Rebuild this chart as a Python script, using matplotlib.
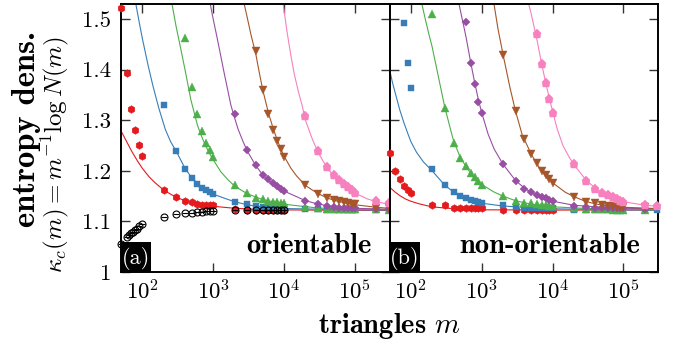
import matplotlib
matplotlib.use('Agg')
import matplotlib.pyplot as plt
from matplotlib.patches import Rectangle
from matplotlib.ticker import LogLocator, FixedLocator, FixedFormatter, NullFormatter

plt.rcParams['font.family'] = 'serif'
plt.rcParams['font.serif'] = ['cmr10']
plt.rcParams['mathtext.fontset'] = 'cm'
plt.rcParams['axes.formatter.use_mathtext'] = True

# ---------------- panel (a): orientable ----------------
red_a_m = [50, 60, 70, 80, 90, 100, 200, 300, 400, 500, 600, 700, 800, 900, 1000,
           2000, 3000, 4000, 5000, 6000, 7000, 8000, 9000, 10000]
red_a_k = [1.523, 1.393, 1.322, 1.281, 1.252, 1.230, 1.162, 1.149, 1.141, 1.138, 1.134, 1.133, 1.132, 1.132, 1.132,
           1.124, 1.123, 1.123, 1.123, 1.123, 1.122, 1.122, 1.122, 1.122]
blue_a_m = [200, 300, 400, 500, 600, 700, 800, 900, 1000, 2000, 3000, 4000, 5000, 6000, 7000, 8000, 9000, 10000,
            20000, 30000, 40000, 50000, 60000, 70000, 80000, 90000, 100000, 200000, 300000]
blue_a_k = [1.331, 1.239, 1.203, 1.185, 1.174, 1.167, 1.162, 1.158, 1.154, 1.139, 1.134, 1.130, 1.129, 1.128, 1.127,
            1.127, 1.126, 1.126, 1.1245, 1.124, 1.123, 1.123, 1.123, 1.123, 1.123, 1.123, 1.123, 1.1225, 1.1225]
green_a_m = [400, 500, 600, 700, 800, 900, 1000, 2000, 3000, 4000, 5000, 6000, 7000, 8000, 9000, 10000,
             20000, 30000, 40000, 50000, 60000, 70000, 80000, 90000, 100000, 200000, 300000]
green_a_k = [1.462, 1.366, 1.312, 1.279, 1.256, 1.241, 1.227, 1.172, 1.157, 1.146, 1.144, 1.141, 1.139, 1.138, 1.136,
             1.136, 1.128, 1.126, 1.125, 1.125, 1.125, 1.125, 1.1245, 1.1245, 1.1245, 1.124, 1.1235]
purple_a_m = [2000, 3000, 4000, 5000, 6000, 7000, 8000, 9000, 10000, 20000, 30000, 40000, 50000, 60000, 70000,
              80000, 90000, 100000, 200000, 300000]
purple_a_k = [1.312, 1.242, 1.211, 1.192, 1.183, 1.1765, 1.170, 1.165, 1.160, 1.141, 1.134, 1.130, 1.128, 1.1275,
              1.127, 1.1265, 1.126, 1.126, 1.1245, 1.124]
brown_a_m = [4000, 5000, 6000, 7000, 8000, 9000, 10000, 20000, 30000, 40000, 50000, 60000, 70000, 80000, 90000,
             100000, 200000, 300000]
brown_a_k = [1.437, 1.360, 1.312, 1.281, 1.260, 1.243, 1.228, 1.172, 1.155, 1.147, 1.143, 1.140, 1.138, 1.137,
             1.135, 1.134, 1.127, 1.126]
pink_a_m = [20000, 30000, 40000, 50000, 60000, 70000, 80000, 90000, 100000, 200000, 300000]
pink_a_k = [1.308, 1.239, 1.208, 1.191, 1.182, 1.175, 1.169, 1.162, 1.157, 1.140, 1.136]
black_a_m = [50, 60, 65, 70, 75, 80, 85, 90, 100, 200, 300, 400, 500, 600, 700, 800, 900, 1000,
             2000, 3000, 4000, 5000, 6000, 7000, 8000, 9000, 10000]
black_a_k = [1.055, 1.070, 1.073, 1.0765, 1.080, 1.083, 1.086, 1.091, 1.094, 1.109, 1.114, 1.116, 1.117, 1.1186,
             1.119, 1.120, 1.121, 1.121, 1.123, 1.1235, 1.1235, 1.1235, 1.1235, 1.1235, 1.1235, 1.1235, 1.1235]

# fitted curves
red_a_fit_m = [50, 60, 70, 85, 100, 125, 150, 200, 250, 300, 400, 500, 700, 1000, 2000, 5000, 10000, 100000, 300000]
red_a_fit_k = [1.279, 1.258, 1.240, 1.220, 1.205, 1.188, 1.177, 1.162, 1.154, 1.148, 1.141, 1.137, 1.133, 1.130,
               1.126, 1.1235, 1.1228, 1.122, 1.122]
blue_a_fit_m = [81, 90, 100, 120, 140, 170, 211, 250, 300, 400, 500, 700, 1000, 1500, 2000, 3000, 5000, 10000,
                100000, 300000]
blue_a_fit_k = [1.53, 1.495, 1.462, 1.41, 1.37, 1.325, 1.282, 1.258, 1.239, 1.205, 1.186, 1.167, 1.154, 1.145, 1.139,
                1.133, 1.1285, 1.1255, 1.123, 1.1225]
green_a_fit_m = [262, 300, 350, 400, 485, 600, 700, 800, 900, 1000, 1283, 1600, 2000, 3000, 5000, 10000, 30000,
                 100000, 300000]
green_a_fit_k = [1.53, 1.485, 1.44, 1.40, 1.34, 1.29, 1.265, 1.247, 1.233, 1.222, 1.198, 1.183, 1.170, 1.155, 1.143,
                 1.134, 1.1265, 1.1245, 1.1235]
purple_a_fit_m = [908, 1000, 1153, 1430, 1775, 2000, 2250, 2600, 3000, 4000, 5000, 6000, 7000, 8000, 10000, 15000,
                  20000, 30000, 50000, 100000, 300000]
purple_a_fit_k = [1.53, 1.50, 1.4585, 1.393, 1.33, 1.305, 1.282, 1.26, 1.240, 1.210, 1.192, 1.181, 1.174, 1.168,
                  1.160, 1.149, 1.141, 1.1345, 1.129, 1.126, 1.124]
brown_a_fit_m = [2735, 3000, 3400, 4000, 4500, 5000, 6000, 7000, 8000, 9000, 10000, 12500, 15000, 20000, 30000,
                 40000, 50000, 70000, 100000, 200000, 300000]
brown_a_fit_k = [1.53, 1.505, 1.47, 1.43, 1.392, 1.36, 1.315, 1.284, 1.261, 1.243, 1.229, 1.205, 1.19, 1.171, 1.155,
                 1.147, 1.142, 1.137, 1.133, 1.128, 1.126]
pink_a_fit_m = [9700, 11000, 12500, 14000, 16000, 18000, 20000, 25000, 30000, 40000, 50000, 70000, 100000, 150000,
                200000, 300000]
pink_a_fit_k = [1.53, 1.475, 1.427, 1.39, 1.355, 1.329, 1.300, 1.263, 1.237, 1.207, 1.19, 1.170, 1.156, 1.1445,
                1.139, 1.134]

# ---------------- panel (b): non-orientable ----------------
red_b_m = [50, 60, 70, 80, 90, 100, 200, 300, 400, 500, 600, 700, 800, 900, 1000,
           2000, 3000, 4000, 5000, 6000, 7000, 8000, 9000, 10000]
red_b_k = [1.235, 1.200, 1.183, 1.170, 1.163, 1.156, 1.132, 1.132, 1.126, 1.126, 1.126, 1.126, 1.126, 1.126, 1.126,
           1.1225, 1.1225, 1.1225, 1.1225, 1.1225, 1.1225, 1.1225, 1.1225, 1.1225]
blue_b_m = [80, 90, 100, 200, 300, 400, 500, 600, 700, 800, 900, 1000, 2000, 3000, 4000, 5000, 6000, 7000, 8000,
            9000, 10000, 20000, 30000, 40000, 50000, 60000, 70000, 80000, 90000, 100000, 200000, 300000]
blue_b_k = [1.4915, 1.414, 1.363, 1.203, 1.172, 1.1575, 1.151, 1.1456, 1.142, 1.140, 1.138, 1.1357, 1.1324, 1.129,
            1.127, 1.126, 1.126, 1.126, 1.126, 1.126, 1.126, 1.1225, 1.1225, 1.1225, 1.1225, 1.1225, 1.1225, 1.1225,
            1.1225, 1.1225, 1.1225, 1.1225]
green_b_m = [200, 300, 400, 500, 600, 700, 800, 900, 1000, 2000, 3000, 4000, 5000, 6000, 7000, 8000, 9000, 10000,
             20000, 30000, 40000, 50000, 60000, 70000, 80000, 90000, 100000, 200000]
green_b_k = [1.511, 1.325, 1.256, 1.226, 1.209, 1.195, 1.187, 1.1805, 1.173, 1.151, 1.140, 1.137, 1.1357, 1.134,
             1.133, 1.132, 1.131, 1.130, 1.126, 1.125, 1.1245, 1.124, 1.124, 1.1235, 1.1235, 1.123, 1.123, 1.1225]
purple_b_m = [600, 700, 800, 900, 1000, 2000, 3000, 4000, 5000, 6000, 7000, 8000, 9000, 10000, 20000, 30000,
              40000, 50000, 60000, 70000, 80000, 90000, 100000, 200000]
purple_b_k = [1.495, 1.414, 1.3715, 1.337, 1.315, 1.213, 1.1805, 1.165, 1.1575, 1.152, 1.149, 1.1456, 1.142,
              1.140, 1.130, 1.129, 1.127, 1.127, 1.1265, 1.1265, 1.126, 1.126, 1.126, 1.125]
brown_b_m = [2000, 3000, 4000, 5000, 6000, 7000, 8000, 9000, 10000, 20000, 30000, 40000, 50000, 60000, 70000,
             80000, 90000, 100000, 200000]
brown_b_k = [1.430, 1.318, 1.264, 1.233, 1.215, 1.200, 1.192, 1.183, 1.1765, 1.149, 1.138, 1.1357, 1.1324, 1.131,
             1.1304, 1.129, 1.128, 1.128, 1.128]
pink_b_m = [6000, 7000, 8000, 9000, 10000, 20000, 30000, 40000, 50000, 60000, 70000, 80000, 90000, 100000,
            200000, 300000]
pink_b_k = [1.470, 1.412, 1.373, 1.342, 1.315, 1.213, 1.1805, 1.165, 1.157, 1.152, 1.148, 1.1437, 1.141, 1.139,
            1.1324, 1.130]

red_b_fit_m = [50, 60, 70, 85, 100, 130, 170, 200, 300, 500, 1000, 10000, 300000]
red_b_fit_k = [1.168, 1.158, 1.151, 1.144, 1.140, 1.135, 1.131, 1.129, 1.1265, 1.1245, 1.123, 1.1225, 1.1225]
blue_b_fit_m = [50, 55, 60, 70, 80, 90, 100, 120, 150, 200, 300, 400, 500, 700, 1000, 2000, 5000, 10000, 100000,
                300000]
blue_b_fit_k = [1.401, 1.375, 1.355, 1.32, 1.295, 1.275, 1.258, 1.237, 1.218, 1.200, 1.172, 1.158, 1.150, 1.142,
                1.136, 1.1305, 1.127, 1.125, 1.1228, 1.1225]
green_b_fit_m = [143, 160, 180, 200, 250, 300, 366, 400, 500, 600, 700, 800, 1000, 1500, 2000, 3000, 5000, 10000,
                 30000, 100000, 300000]
green_b_fit_k = [1.53, 1.50, 1.47, 1.445, 1.38, 1.327, 1.28, 1.26, 1.226, 1.209, 1.195, 1.186, 1.173, 1.158, 1.150,
                 1.141, 1.134, 1.129, 1.1255, 1.1237, 1.123]
purple_b_fit_m = [478, 550, 600, 700, 800, 900, 1000, 1228, 1500, 2000, 3000, 4000, 5000, 7000, 10000, 20000,
                  50000, 100000, 300000]
purple_b_fit_k = [1.53, 1.49, 1.465, 1.414, 1.373, 1.34, 1.315, 1.273, 1.243, 1.213, 1.181, 1.166, 1.157, 1.148,
                  1.140, 1.132, 1.128, 1.126, 1.125]
brown_b_fit_m = [1490, 1700, 2000, 2500, 3000, 3730, 4000, 5000, 6000, 7000, 8000, 10000, 15000, 20000, 30000,
                 50000, 100000, 300000]
brown_b_fit_k = [1.53, 1.48, 1.43, 1.365, 1.318, 1.271, 1.262, 1.233, 1.214, 1.200, 1.19, 1.1765, 1.158, 1.149,
                 1.139, 1.132, 1.128, 1.1255]
pink_b_fit_m = [4600, 5000, 6000, 7000, 8000, 9000, 10000, 11600, 14000, 17000, 20000, 30000, 40000, 50000, 70000,
                100000, 200000, 300000]
pink_b_fit_k = [1.53, 1.51, 1.46, 1.412, 1.374, 1.343, 1.318, 1.283, 1.25, 1.228, 1.212, 1.181, 1.166, 1.157,
                1.147, 1.139, 1.132, 1.130]

colors = {'red': '#e41a1c', 'blue': '#377eb8', 'green': '#4daf4a',
          'purple': '#984ea3', 'brown': '#a65628', 'pink': '#f781bf'}
markers = {'red': ('h', 5.5), 'blue': ('s', 5), 'green': ('^', 6),
           'purple': ('D', 4.5), 'brown': ('v', 6), 'pink': ('p', 6.5)}

panel_a = {
    'red': (red_a_m, red_a_k, red_a_fit_m, red_a_fit_k),
    'blue': (blue_a_m, blue_a_k, blue_a_fit_m, blue_a_fit_k),
    'green': (green_a_m, green_a_k, green_a_fit_m, green_a_fit_k),
    'purple': (purple_a_m, purple_a_k, purple_a_fit_m, purple_a_fit_k),
    'brown': (brown_a_m, brown_a_k, brown_a_fit_m, brown_a_fit_k),
    'pink': (pink_a_m, pink_a_k, pink_a_fit_m, pink_a_fit_k),
}
panel_b = {
    'red': (red_b_m, red_b_k, red_b_fit_m, red_b_fit_k),
    'blue': (blue_b_m, blue_b_k, blue_b_fit_m, blue_b_fit_k),
    'green': (green_b_m, green_b_k, green_b_fit_m, green_b_fit_k),
    'purple': (purple_b_m, purple_b_k, purple_b_fit_m, purple_b_fit_k),
    'brown': (brown_b_m, brown_b_k, brown_b_fit_m, brown_b_fit_k),
    'pink': (pink_b_m, pink_b_k, pink_b_fit_m, pink_b_fit_k),
}

fig = plt.figure(figsize=(6.74, 3.45), dpi=100)
W, H = 674.0, 345.0
ax_a = fig.add_axes([121 / W, 73 / H, 268.5 / W, 268 / H])
ax_b = fig.add_axes([389.5 / W, 73 / H, 268.5 / W, 268 / H])

for ax, data, tag, name in [(ax_a, panel_a, '(a)', 'orientable'), (ax_b, panel_b, '(b)', 'non-orientable')]:
    for key, (m, k, fm, fk) in data.items():
        ax.plot(fm, fk, '-', color=colors[key], lw=0.8, zorder=2)
    for key, (m, k, fm, fk) in data.items():
        mk, ms = markers[key]
        ax.plot(m, k, ls='none', marker=mk, ms=ms, color=colors[key], mec=colors[key], mew=0.3,
                zorder=3, clip_on=False)
    if ax is ax_a:
        ax.plot(black_a_m, black_a_k, ls='none', marker='o', ms=5, mfc='none', mec='black', mew=0.8,
                zorder=4, clip_on=False)
        ax.plot(black_a_m, black_a_k, ls='none', marker='_', ms=4, color='black', mew=0.8, zorder=4,
                clip_on=False)

    ax.set_xscale('log')
    ax.set_xlim(50, 10 ** 5.487)
    ax.set_ylim(1.0, 1.53)
    ax.xaxis.set_major_locator(FixedLocator([1e2, 1e3, 1e4, 1e5]))
    ax.xaxis.set_major_formatter(FixedFormatter([r'$10^{2}$', r'$10^{3}$', r'$10^{4}$', r'$10^{5}$']))
    ax.xaxis.set_minor_locator(LogLocator(base=10, subs=(2, 5, 8)))
    ax.xaxis.set_minor_formatter(NullFormatter())
    ax.yaxis.set_major_locator(FixedLocator([1.0, 1.1, 1.2, 1.3, 1.4, 1.5]))
    ax.yaxis.set_major_formatter(FixedFormatter(['1', '1.1', '1.2', '1.3', '1.4', '1.5']))
    ax.tick_params(which='both', direction='in', top=True, right=True, labelsize=16.5, width=1.0, color='#333333')
    ax.tick_params(which='major', length=6.5)
    ax.tick_params(which='minor', length=3.8)
    ax.tick_params(axis='x', pad=5)
    ax.tick_params(axis='y', pad=7)
    for s in ax.spines.values():
        s.set_linewidth(1.4)
    if ax is ax_b:
        ax.tick_params(labelleft=False)

    ax.add_patch(Rectangle((0, 0), 30 / 268.5, 30 / 268, transform=ax.transAxes, facecolor='black',
                           edgecolor='none', zorder=6, clip_on=False))
    ax.text(15 / 268.5, 14 / 268, tag, transform=ax.transAxes, ha='center', va='center', color='white',
            fontsize=16, zorder=7)
    ax.text(0.932, 0.07, name, transform=ax.transAxes, ha='right', va='baseline', fontsize=20.5,
            fontfamily='cmb10', zorder=7)

fig.text(27 / W, 1 - 129 / H, 'entropy dens.', rotation=90, ha='center', va='center', fontsize=23.5,
         fontfamily='cmb10')
fig.text(55 / W, 1 - 154 / H, r'$\kappa_c(m) = m^{-1}\log N(m)$', rotation=90, ha='center', va='center',
         fontsize=18)
fig.text(390 / W, 12 / H, r'triangles $m$', ha='center', va='baseline', fontsize=20.5, fontfamily='cmb10')

fig.savefig('out.png', dpi=100)
